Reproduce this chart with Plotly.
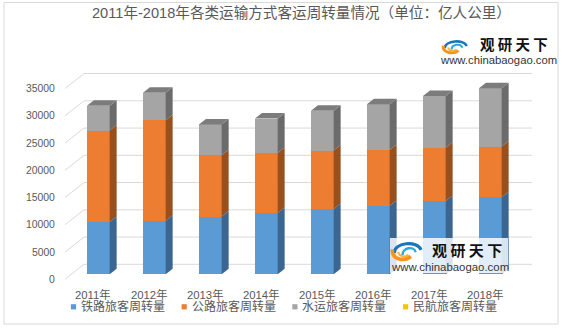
import plotly.graph_objects as go

# ---------------- data ----------------
years = ["2011年", "2012年", "2013年", "2014年", "2015年", "2016年", "2017年", "2018年"]
rail = [9612, 9812, 10596, 11242, 11961, 12579, 13457, 14147]
road = [16760, 18468, 11251, 10997, 10743, 10229, 9765, 9280]
water = [4537, 5026, 5657, 6334, 7283, 8378, 9513, 10712]
aviation = [0, 0, 0, 0, 0, 0, 0, 0]
series_names = ["铁路旅客周转量", "公路旅客周转量", "水运旅客周转量", "民航旅客周转量"]
y_ticks = [0, 5000, 10000, 15000, 20000, 25000, 30000, 35000]
title_text = "2011年-2018年各类运输方式客运周转量情况（单位：亿人公里）"

series_values = [rail, road, water, aviation]
front_colors = ["#5B9BD5", "#ED7D31", "#A5A5A5", "#FFC000"]
side_colors = ["#3A6690", "#97501F", "#6B6B6B", "#A67C00"]
top_colors = ["#4A80B0", "#B8612A", "#7C7C7C", "#C99700"]

FONT = "Liberation Sans, Noto Sans CJK SC, sans-serif"
TXT = "#595959"

# ---------------- geometry (pixels) ----------------
W, H = 562, 330
L, R, T, B = 60, 540, 65, 285
CAT_PX = 56.0
X0_PX = 98.3
PX_PER_UNIT = 27.25 / 5000
BASE_PX = 274.3

xr = [(L - X0_PX) / CAT_PX, (R - X0_PX) / CAT_PX]
yr = [-(B - BASE_PX) / PX_PER_UNIT, (BASE_PX - T) / PX_PER_UNIT]


def pxx(x):
    return (x - L) / (R - L)


def pxy(y):
    return (B - y) / (B - T)


BAR_W = 22.7 / CAT_PX
DX = 7.0 / CAT_PX
DY = 5.5 / PX_PER_UNIT
BACK_OFF = (BASE_PX - 264.3) / PX_PER_UNIT
FRONT_OFF = (279.3 - BASE_PX) / PX_PER_UNIT
GRID_X0 = (84 - X0_PX) / CAT_PX
GRID_X1 = (532 - X0_PX) / CAT_PX
DIAG_X0 = (65 - X0_PX) / CAT_PX

idx = list(range(len(years)))
fig = go.Figure()

# front faces
for name, vals, col in zip(series_names, series_values, front_colors):
    fig.add_trace(go.Bar(x=idx, y=vals, name=name, width=BAR_W,
                         marker=dict(color=col, line=dict(width=0)),
                         showlegend=False))

# side faces and top faces
cum = [0] * len(idx)
top_info = [None] * len(idx)
for s, vals in enumerate(series_values):
    xs, ys = [], []
    for i in idx:
        b = cum[i]
        t = b + vals[i]
        if vals[i] > 0:
            xr_ = i + BAR_W / 2
            xs += [xr_, xr_ + DX, xr_ + DX, xr_, xr_, None]
            ys += [b, b + DY, t + DY, t, b, None]
            top_info[i] = (s, t)
        cum[i] = t
    if xs:
        fig.add_trace(go.Scatter(x=xs, y=ys, mode="lines", fill="toself",
                                 fillcolor=side_colors[s], line=dict(width=0, color=side_colors[s]),
                                 hoverinfo="skip", showlegend=False))

for s in range(len(series_values)):
    xs, ys = [], []
    for i in idx:
        if top_info[i] and top_info[i][0] == s:
            t = top_info[i][1]
            xl, xrr = i - BAR_W / 2, i + BAR_W / 2
            xs += [xl, xrr, xrr + DX, xl + DX, xl, None]
            ys += [t, t, t + DY, t + DY, t, None]
    if xs:
        fig.add_trace(go.Scatter(x=xs, y=ys, mode="lines", fill="toself",
                                 fillcolor=top_colors[s], line=dict(width=0, color=top_colors[s]),
                                 hoverinfo="skip", showlegend=False))

shapes = []
annotations = []

# border
shapes.append(dict(type="rect", xref="paper", yref="paper", x0=pxx(4), x1=pxx(558),
                   y0=pxy(2.5), y1=pxy(324), line=dict(color="#D9D9D9", width=1), layer="below"))

# gridlines (back wall + left wall diagonals)
for v in y_ticks:
    shapes.append(dict(type="line", xref="x", yref="y", x0=GRID_X0, x1=GRID_X1,
                       y0=v + BACK_OFF, y1=v + BACK_OFF,
                       line=dict(color="#D9D9D9", width=1), layer="below"))
    shapes.append(dict(type="line", xref="x", yref="y", x0=DIAG_X0, x1=GRID_X0,
                       y0=v - FRONT_OFF, y1=v + BACK_OFF,
                       line=dict(color="#D9D9D9", width=1), layer="below"))
    annotations.append(dict(xref="paper", yref="y", x=pxx(57), y=v - FRONT_OFF,
                            text=str(v), showarrow=False, xanchor="right", yanchor="middle",
                            font=dict(family=FONT, size=10.4, color=TXT)))

# x labels
for i, yl in zip(idx, years):
    annotations.append(dict(xref="x", yref="paper", x=i - 5.0 / CAT_PX, y=pxy(294.3),
                            text=yl, showarrow=False, xanchor="center", yanchor="middle",
                            font=dict(family=FONT, size=11.3, color=TXT)))

# title
annotations.append(dict(xref="paper", yref="paper", x=pxx(301.7), y=pxy(13.5), text=title_text,
                        showarrow=False, xanchor="center", yanchor="middle",
                        font=dict(family=FONT, size=14.6, color=TXT)))

# legend
for k, (name, col) in enumerate(zip(series_names, front_colors)):
    cx = 73.5 + 110.7 * k
    cy = 306.8
    shapes.append(dict(type="rect", xref="paper", yref="paper",
                       x0=pxx(cx - 2.6), x1=pxx(cx + 2.6), y0=pxy(cy + 2.6), y1=pxy(cy - 2.6),
                       fillcolor=col, line=dict(width=0)))
    annotations.append(dict(xref="paper", yref="paper", x=pxx(cx + 5.5), y=pxy(306.7),
                            text=name, showarrow=False, xanchor="left", yanchor="middle",
                            font=dict(family=FONT, size=12, color=TXT)))


# logo helper
def icon(x0, y0, w, h, scale):
    def p(u, v):
        return "%.5f,%.5f" % (pxx(x0 + u * w), pxy(y0 + v * h))
    paths = [
        ("M" + p(0.08, 0.62) + " C" + p(0.10, 0.02) + " " + p(0.85, -0.08) + " " + p(0.98, 0.45), "#1B75BB", 2.6),
        ("M" + p(0.36, 0.72) + " C" + p(0.36, 0.30) + " " + p(0.75, 0.22) + " " + p(0.80, 0.58), "#29A9E0", 2.0),
        ("M" + p(0.02, 0.42) + " C" + p(0.00, 1.02) + " " + p(0.45, 1.08) + " " + p(0.64, 0.80), "#F7941D", 3.0),
        ("M" + p(0.22, 0.55) + " C" + p(0.24, 0.86) + " " + p(0.50, 0.86) + " " + p(0.55, 0.70), "#F9B233", 1.8),
    ]
    out = []
    for d, c, lw in paths:
        out.append(dict(type="path", xref="paper", yref="paper", path=d,
                        line=dict(color=c, width=lw * scale), layer="above"))
    return out


def logo(icon_box, brand_xy, brand_size, url_xy, url_size, scale):
    shapes.extend(icon(*icon_box, scale))
    annotations.append(dict(xref="paper", yref="paper", x=pxx(brand_xy[0]), y=pxy(brand_xy[1]),
                            text="<b>观 研 天 下</b>", showarrow=False, xanchor="center", yanchor="middle",
                            font=dict(family="Noto Sans CJK SC, sans-serif", size=brand_size, color="#111111")))
    annotations.append(dict(xref="paper", yref="paper", x=pxx(url_xy[0]), y=pxy(url_xy[1]),
                            text="www.chinabaogao.com", showarrow=False, xanchor="center", yanchor="middle",
                            font=dict(family="Liberation Sans, sans-serif", size=url_size, color="#333333")))


# top-right logo
logo((442.7, 40.0, 24.6, 13.3), (514, 43.6), 14.5, (498.9, 59.8), 11.3, 1.0)

# watermark in plot area
shapes.append(dict(type="rect", xref="paper", yref="paper", x0=pxx(390), x1=pxx(508),
                   y0=pxy(273), y1=pxy(238), fillcolor="rgba(255,255,255,0.82)",
                   line=dict(width=0), layer="above"))
logo((391.7, 241.7, 30.0, 18.3), (466.5, 249.5), 15, (449.5, 267.2), 11.4, 1.2)

fig.update_layout(
    width=W, height=H,
    margin=dict(l=L, r=W - R, t=T, b=H - B, pad=0),
    paper_bgcolor="white", plot_bgcolor="white",
    barmode="stack", bargap=0,
    xaxis=dict(range=xr, visible=False, fixedrange=True),
    yaxis=dict(range=yr, visible=False, fixedrange=True),
    shapes=shapes, annotations=annotations,
    showlegend=False,
    font=dict(family=FONT),
)

fig.write_html("out.html")
